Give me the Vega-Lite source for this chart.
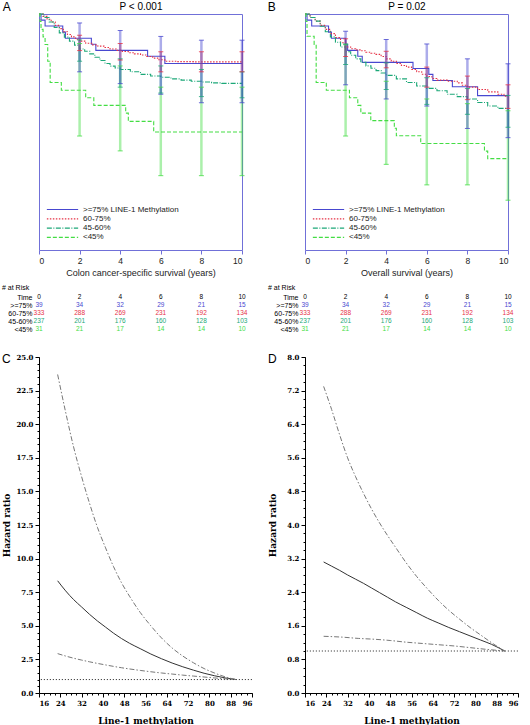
{
  "$schema": "https://vega.github.io/schema/vega-lite/v6.json",
  "padding": {"left": 2, "top": 0, "right": 0, "bottom": 0},
  "config": {
    "font": "Liberation Sans",
    "view": {"stroke": null},
    "axis": {"grid": false, "labelFontWeight": "normal", "titleFontWeight": "normal"},
    "title": {"fontWeight": "normal", "color": "#000"}
  },
  "datasets": {
    "kmA": [
      {"g": ">=75%", "t": 0, "s": 1}, {"g": ">=75%", "t": 0.1, "s": 0.974}, {"g": ">=75%", "t": 0.3, "s": 0.949}, {"g": ">=75%", "t": 1.17, "s": 0.923}, {"g": ">=75%", "t": 1.3, "s": 0.897}, {"g": ">=75%", "t": 2.58, "s": 0.872}, {"g": ">=75%", "t": 2.8, "s": 0.846}, {"g": ">=75%", "t": 5.35, "s": 0.821}, {"g": ">=75%", "t": 6.2, "s": 0.79}, {"g": ">=75%", "t": 10, "s": 0.79},
      {"g": "60-75%", "t": 0, "s": 1}, {"g": "60-75%", "t": 0.2, "s": 0.99}, {"g": "60-75%", "t": 0.4, "s": 0.978}, {"g": "60-75%", "t": 0.6, "s": 0.966}, {"g": "60-75%", "t": 0.8, "s": 0.952}, {"g": "60-75%", "t": 1.0, "s": 0.938}, {"g": "60-75%", "t": 1.2, "s": 0.925}, {"g": "60-75%", "t": 1.4, "s": 0.913}, {"g": "60-75%", "t": 1.6, "s": 0.903}, {"g": "60-75%", "t": 1.8, "s": 0.893}, {"g": "60-75%", "t": 2.0, "s": 0.885}, {"g": "60-75%", "t": 2.3, "s": 0.876}, {"g": "60-75%", "t": 2.6, "s": 0.869}, {"g": "60-75%", "t": 2.9, "s": 0.864}, {"g": "60-75%", "t": 3.2, "s": 0.858}, {"g": "60-75%", "t": 3.5, "s": 0.852}, {"g": "60-75%", "t": 3.8, "s": 0.846}, {"g": "60-75%", "t": 4.1, "s": 0.841}, {"g": "60-75%", "t": 4.4, "s": 0.836}, {"g": "60-75%", "t": 4.7, "s": 0.831}, {"g": "60-75%", "t": 5.0, "s": 0.826}, {"g": "60-75%", "t": 5.3, "s": 0.82}, {"g": "60-75%", "t": 5.6, "s": 0.813}, {"g": "60-75%", "t": 5.9, "s": 0.806}, {"g": "60-75%", "t": 6.2, "s": 0.8}, {"g": "60-75%", "t": 6.8, "s": 0.798}, {"g": "60-75%", "t": 7.6, "s": 0.797}, {"g": "60-75%", "t": 10, "s": 0.797},
      {"g": "45-60%", "t": 0, "s": 1}, {"g": "45-60%", "t": 0.25, "s": 0.985}, {"g": "45-60%", "t": 0.5, "s": 0.966}, {"g": "45-60%", "t": 0.75, "s": 0.943}, {"g": "45-60%", "t": 1.0, "s": 0.92}, {"g": "45-60%", "t": 1.25, "s": 0.902}, {"g": "45-60%", "t": 1.5, "s": 0.885}, {"g": "45-60%", "t": 1.75, "s": 0.868}, {"g": "45-60%", "t": 2.0, "s": 0.852}, {"g": "45-60%", "t": 2.25, "s": 0.842}, {"g": "45-60%", "t": 2.5, "s": 0.831}, {"g": "45-60%", "t": 2.75, "s": 0.817}, {"g": "45-60%", "t": 3.0, "s": 0.803}, {"g": "45-60%", "t": 3.25, "s": 0.79}, {"g": "45-60%", "t": 3.5, "s": 0.779}, {"g": "45-60%", "t": 3.75, "s": 0.771}, {"g": "45-60%", "t": 4.0, "s": 0.765}, {"g": "45-60%", "t": 4.5, "s": 0.755}, {"g": "45-60%", "t": 5.0, "s": 0.744}, {"g": "45-60%", "t": 5.5, "s": 0.737}, {"g": "45-60%", "t": 6.0, "s": 0.732}, {"g": "45-60%", "t": 6.5, "s": 0.725}, {"g": "45-60%", "t": 7.0, "s": 0.72}, {"g": "45-60%", "t": 7.5, "s": 0.715}, {"g": "45-60%", "t": 8.0, "s": 0.712}, {"g": "45-60%", "t": 8.5, "s": 0.708}, {"g": "45-60%", "t": 9.0, "s": 0.706}, {"g": "45-60%", "t": 10, "s": 0.705},
      {"g": "<45%", "t": 0, "s": 1}, {"g": "<45%", "t": 0.05, "s": 0.968}, {"g": "<45%", "t": 0.1, "s": 0.935}, {"g": "<45%", "t": 0.2, "s": 0.903}, {"g": "<45%", "t": 0.3, "s": 0.871}, {"g": "<45%", "t": 0.43, "s": 0.8}, {"g": "<45%", "t": 0.55, "s": 0.71}, {"g": "<45%", "t": 1.1, "s": 0.677}, {"g": "<45%", "t": 2.3, "s": 0.645}, {"g": "<45%", "t": 2.7, "s": 0.613}, {"g": "<45%", "t": 4.27, "s": 0.58}, {"g": "<45%", "t": 4.4, "s": 0.545}, {"g": "<45%", "t": 5.65, "s": 0.5}, {"g": "<45%", "t": 10, "s": 0.5}
    ],
    "kmB": [
      {"g": ">=75%", "t": 0, "s": 1}, {"g": ">=75%", "t": 0.1, "s": 0.974}, {"g": ">=75%", "t": 0.33, "s": 0.949}, {"g": ">=75%", "t": 1.16, "s": 0.923}, {"g": ">=75%", "t": 1.3, "s": 0.897}, {"g": ">=75%", "t": 2.0, "s": 0.872}, {"g": ">=75%", "t": 2.1, "s": 0.846}, {"g": ">=75%", "t": 2.6, "s": 0.821}, {"g": ">=75%", "t": 2.82, "s": 0.795}, {"g": ">=75%", "t": 5.32, "s": 0.769}, {"g": ">=75%", "t": 6.1, "s": 0.744}, {"g": ">=75%", "t": 6.3, "s": 0.718}, {"g": ">=75%", "t": 7.26, "s": 0.692}, {"g": ">=75%", "t": 8.5, "s": 0.654}, {"g": ">=75%", "t": 10, "s": 0.654},
      {"g": "60-75%", "t": 0, "s": 1}, {"g": "60-75%", "t": 0.25, "s": 0.985}, {"g": "60-75%", "t": 0.5, "s": 0.97}, {"g": "60-75%", "t": 0.75, "s": 0.952}, {"g": "60-75%", "t": 1.0, "s": 0.935}, {"g": "60-75%", "t": 1.25, "s": 0.917}, {"g": "60-75%", "t": 1.5, "s": 0.9}, {"g": "60-75%", "t": 1.75, "s": 0.878}, {"g": "60-75%", "t": 2.0, "s": 0.86}, {"g": "60-75%", "t": 2.25, "s": 0.853}, {"g": "60-75%", "t": 2.5, "s": 0.848}, {"g": "60-75%", "t": 2.75, "s": 0.844}, {"g": "60-75%", "t": 3.0, "s": 0.838}, {"g": "60-75%", "t": 3.25, "s": 0.834}, {"g": "60-75%", "t": 3.5, "s": 0.829}, {"g": "60-75%", "t": 3.75, "s": 0.82}, {"g": "60-75%", "t": 4.0, "s": 0.81}, {"g": "60-75%", "t": 4.25, "s": 0.8}, {"g": "60-75%", "t": 4.5, "s": 0.79}, {"g": "60-75%", "t": 4.75, "s": 0.782}, {"g": "60-75%", "t": 5.0, "s": 0.775}, {"g": "60-75%", "t": 5.25, "s": 0.765}, {"g": "60-75%", "t": 5.5, "s": 0.755}, {"g": "60-75%", "t": 5.75, "s": 0.745}, {"g": "60-75%", "t": 6.0, "s": 0.735}, {"g": "60-75%", "t": 6.25, "s": 0.727}, {"g": "60-75%", "t": 6.5, "s": 0.72}, {"g": "60-75%", "t": 7.0, "s": 0.715}, {"g": "60-75%", "t": 7.5, "s": 0.708}, {"g": "60-75%", "t": 7.75, "s": 0.698}, {"g": "60-75%", "t": 8.0, "s": 0.69}, {"g": "60-75%", "t": 8.5, "s": 0.68}, {"g": "60-75%", "t": 9.0, "s": 0.67}, {"g": "60-75%", "t": 9.5, "s": 0.66}, {"g": "60-75%", "t": 9.8, "s": 0.652}, {"g": "60-75%", "t": 10, "s": 0.652},
      {"g": "45-60%", "t": 0, "s": 1}, {"g": "45-60%", "t": 0.25, "s": 0.985}, {"g": "45-60%", "t": 0.5, "s": 0.97}, {"g": "45-60%", "t": 0.75, "s": 0.948}, {"g": "45-60%", "t": 1.0, "s": 0.925}, {"g": "45-60%", "t": 1.25, "s": 0.903}, {"g": "45-60%", "t": 1.5, "s": 0.88}, {"g": "45-60%", "t": 1.75, "s": 0.86}, {"g": "45-60%", "t": 2.0, "s": 0.84}, {"g": "45-60%", "t": 2.25, "s": 0.825}, {"g": "45-60%", "t": 2.5, "s": 0.81}, {"g": "45-60%", "t": 2.75, "s": 0.795}, {"g": "45-60%", "t": 3.0, "s": 0.78}, {"g": "45-60%", "t": 3.25, "s": 0.77}, {"g": "45-60%", "t": 3.5, "s": 0.76}, {"g": "45-60%", "t": 3.75, "s": 0.75}, {"g": "45-60%", "t": 4.0, "s": 0.74}, {"g": "45-60%", "t": 4.5, "s": 0.725}, {"g": "45-60%", "t": 5.0, "s": 0.71}, {"g": "45-60%", "t": 5.5, "s": 0.695}, {"g": "45-60%", "t": 6.0, "s": 0.685}, {"g": "45-60%", "t": 6.5, "s": 0.675}, {"g": "45-60%", "t": 7.0, "s": 0.66}, {"g": "45-60%", "t": 7.5, "s": 0.65}, {"g": "45-60%", "t": 8.0, "s": 0.64}, {"g": "45-60%", "t": 8.5, "s": 0.625}, {"g": "45-60%", "t": 9.0, "s": 0.61}, {"g": "45-60%", "t": 9.5, "s": 0.6}, {"g": "45-60%", "t": 10, "s": 0.59},
      {"g": "<45%", "t": 0, "s": 1}, {"g": "<45%", "t": 0.05, "s": 0.968}, {"g": "<45%", "t": 0.1, "s": 0.906}, {"g": "<45%", "t": 0.45, "s": 0.871}, {"g": "<45%", "t": 0.55, "s": 0.71}, {"g": "<45%", "t": 1.05, "s": 0.677}, {"g": "<45%", "t": 2.19, "s": 0.645}, {"g": "<45%", "t": 2.6, "s": 0.613}, {"g": "<45%", "t": 2.75, "s": 0.58}, {"g": "<45%", "t": 3.24, "s": 0.548}, {"g": "<45%", "t": 4.4, "s": 0.516}, {"g": "<45%", "t": 4.5, "s": 0.484}, {"g": "<45%", "t": 5.7, "s": 0.451}, {"g": "<45%", "t": 8.84, "s": 0.419}, {"g": "<45%", "t": 9.0, "s": 0.387}, {"g": "<45%", "t": 10, "s": 0.387}
    ],
    "ebA": [
      {"t": 2, "g": "<45%", "lo": 0.483, "hi": 0.875}, {"t": 4, "g": "<45%", "lo": 0.42, "hi": 0.78}, {"t": 6, "g": "<45%", "lo": 0.315, "hi": 0.69}, {"t": 8, "g": "<45%", "lo": 0.315, "hi": 0.69}, {"t": 10, "g": "<45%", "lo": 0.315, "hi": 0.69},
      {"t": 2, "g": "45-60%", "lo": 0.8, "hi": 0.89}, {"t": 4, "g": "45-60%", "lo": 0.69, "hi": 0.81}, {"t": 6, "g": "45-60%", "lo": 0.665, "hi": 0.78}, {"t": 8, "g": "45-60%", "lo": 0.65, "hi": 0.765}, {"t": 10, "g": "45-60%", "lo": 0.645, "hi": 0.755},
      {"t": 2, "g": "60-75%", "lo": 0.845, "hi": 0.91}, {"t": 4, "g": "60-75%", "lo": 0.805, "hi": 0.875}, {"t": 6, "g": "60-75%", "lo": 0.755, "hi": 0.84}, {"t": 8, "g": "60-75%", "lo": 0.755, "hi": 0.84}, {"t": 10, "g": "60-75%", "lo": 0.755, "hi": 0.84},
      {"t": 2, "g": ">=75%", "lo": 0.755, "hi": 0.962}, {"t": 4, "g": ">=75%", "lo": 0.705, "hi": 0.93}, {"t": 6, "g": ">=75%", "lo": 0.66, "hi": 0.905}, {"t": 8, "g": ">=75%", "lo": 0.624, "hi": 0.889}, {"t": 10, "g": ">=75%", "lo": 0.624, "hi": 0.889}
    ],
    "ebB": [
      {"t": 2, "g": "<45%", "lo": 0.483, "hi": 0.87}, {"t": 4, "g": "<45%", "lo": 0.363, "hi": 0.715}, {"t": 6, "g": "<45%", "lo": 0.276, "hi": 0.64}, {"t": 8, "g": "<45%", "lo": 0.276, "hi": 0.62}, {"t": 10, "g": "<45%", "lo": 0.211, "hi": 0.59},
      {"t": 2, "g": "45-60%", "lo": 0.786, "hi": 0.873}, {"t": 4, "g": "45-60%", "lo": 0.68, "hi": 0.793}, {"t": 6, "g": "45-60%", "lo": 0.617, "hi": 0.73}, {"t": 8, "g": "45-60%", "lo": 0.575, "hi": 0.684}, {"t": 10, "g": "45-60%", "lo": 0.52, "hi": 0.655},
      {"t": 2, "g": "60-75%", "lo": 0.82, "hi": 0.895}, {"t": 4, "g": "60-75%", "lo": 0.772, "hi": 0.842}, {"t": 6, "g": "60-75%", "lo": 0.69, "hi": 0.775}, {"t": 8, "g": "60-75%", "lo": 0.637, "hi": 0.737}, {"t": 10, "g": "60-75%", "lo": 0.6, "hi": 0.7},
      {"t": 2, "g": ">=75%", "lo": 0.7, "hi": 0.927}, {"t": 4, "g": ">=75%", "lo": 0.64, "hi": 0.892}, {"t": 6, "g": ">=75%", "lo": 0.61, "hi": 0.873}, {"t": 8, "g": ">=75%", "lo": 0.515, "hi": 0.81}, {"t": 10, "g": ">=75%", "lo": 0.476, "hi": 0.789}
    ],
    "risk": [
      {"g": "Time", "t": 0, "n": 0}, {"g": "Time", "t": 2, "n": 2}, {"g": "Time", "t": 4, "n": 4}, {"g": "Time", "t": 6, "n": 6}, {"g": "Time", "t": 8, "n": 8}, {"g": "Time", "t": 10, "n": 10},
      {"g": ">=75%", "t": 0, "n": 39}, {"g": ">=75%", "t": 2, "n": 34}, {"g": ">=75%", "t": 4, "n": 32}, {"g": ">=75%", "t": 6, "n": 29}, {"g": ">=75%", "t": 8, "n": 21}, {"g": ">=75%", "t": 10, "n": 15},
      {"g": "60-75%", "t": 0, "n": 333}, {"g": "60-75%", "t": 2, "n": 288}, {"g": "60-75%", "t": 4, "n": 269}, {"g": "60-75%", "t": 6, "n": 231}, {"g": "60-75%", "t": 8, "n": 192}, {"g": "60-75%", "t": 10, "n": 134},
      {"g": "45-60%", "t": 0, "n": 237}, {"g": "45-60%", "t": 2, "n": 201}, {"g": "45-60%", "t": 4, "n": 176}, {"g": "45-60%", "t": 6, "n": 160}, {"g": "45-60%", "t": 8, "n": 128}, {"g": "45-60%", "t": 10, "n": 103},
      {"g": "<45%", "t": 0, "n": 31}, {"g": "<45%", "t": 2, "n": 21}, {"g": "<45%", "t": 4, "n": 17}, {"g": "<45%", "t": 6, "n": 14}, {"g": "<45%", "t": 8, "n": 14}, {"g": "<45%", "t": 10, "n": 10}
    ],
    "hrC": [
      {"k": "est", "x": 23, "hr": 8.35}, {"k": "est", "x": 26, "hr": 7.6}, {"k": "est", "x": 29, "hr": 6.95}, {"k": "est", "x": 32, "hr": 6.4}, {"k": "est", "x": 35, "hr": 5.85}, {"k": "est", "x": 38, "hr": 5.35}, {"k": "est", "x": 41, "hr": 4.9}, {"k": "est", "x": 44, "hr": 4.45}, {"k": "est", "x": 47, "hr": 4.05}, {"k": "est", "x": 50, "hr": 3.7}, {"k": "est", "x": 54, "hr": 3.3}, {"k": "est", "x": 58, "hr": 2.9}, {"k": "est", "x": 62, "hr": 2.55}, {"k": "est", "x": 66, "hr": 2.23}, {"k": "est", "x": 70, "hr": 1.95}, {"k": "est", "x": 74, "hr": 1.7}, {"k": "est", "x": 78, "hr": 1.47}, {"k": "est", "x": 82, "hr": 1.28}, {"k": "est", "x": 86, "hr": 1.12}, {"k": "est", "x": 90, "hr": 1.0},
      {"k": "upper", "x": 23, "hr": 23.7}, {"k": "upper", "x": 26, "hr": 20.9}, {"k": "upper", "x": 29, "hr": 18.3}, {"k": "upper", "x": 32, "hr": 16.1}, {"k": "upper", "x": 35, "hr": 14.1}, {"k": "upper", "x": 38, "hr": 12.3}, {"k": "upper", "x": 41, "hr": 10.8}, {"k": "upper", "x": 44, "hr": 9.4}, {"k": "upper", "x": 47, "hr": 8.2}, {"k": "upper", "x": 50, "hr": 7.2}, {"k": "upper", "x": 54, "hr": 6.0}, {"k": "upper", "x": 58, "hr": 5.0}, {"k": "upper", "x": 62, "hr": 4.1}, {"k": "upper", "x": 66, "hr": 3.35}, {"k": "upper", "x": 70, "hr": 2.75}, {"k": "upper", "x": 74, "hr": 2.25}, {"k": "upper", "x": 78, "hr": 1.82}, {"k": "upper", "x": 82, "hr": 1.48}, {"k": "upper", "x": 86, "hr": 1.2}, {"k": "upper", "x": 90, "hr": 1.0},
      {"k": "lower", "x": 23, "hr": 2.93}, {"k": "lower", "x": 26, "hr": 2.75}, {"k": "lower", "x": 29, "hr": 2.59}, {"k": "lower", "x": 32, "hr": 2.45}, {"k": "lower", "x": 35, "hr": 2.32}, {"k": "lower", "x": 38, "hr": 2.2}, {"k": "lower", "x": 41, "hr": 2.09}, {"k": "lower", "x": 44, "hr": 1.98}, {"k": "lower", "x": 47, "hr": 1.88}, {"k": "lower", "x": 50, "hr": 1.79}, {"k": "lower", "x": 54, "hr": 1.68}, {"k": "lower", "x": 58, "hr": 1.58}, {"k": "lower", "x": 62, "hr": 1.49}, {"k": "lower", "x": 66, "hr": 1.41}, {"k": "lower", "x": 70, "hr": 1.33}, {"k": "lower", "x": 74, "hr": 1.26}, {"k": "lower", "x": 78, "hr": 1.19}, {"k": "lower", "x": 82, "hr": 1.12}, {"k": "lower", "x": 86, "hr": 1.06}, {"k": "lower", "x": 90, "hr": 1.0}
    ],
    "hrD": [
      {"k": "est", "x": 23, "hr": 3.12}, {"k": "est", "x": 26, "hr": 3.02}, {"k": "est", "x": 29, "hr": 2.92}, {"k": "est", "x": 32, "hr": 2.81}, {"k": "est", "x": 35, "hr": 2.71}, {"k": "est", "x": 38, "hr": 2.61}, {"k": "est", "x": 41, "hr": 2.5}, {"k": "est", "x": 44, "hr": 2.39}, {"k": "est", "x": 47, "hr": 2.28}, {"k": "est", "x": 50, "hr": 2.17}, {"k": "est", "x": 54, "hr": 2.04}, {"k": "est", "x": 58, "hr": 1.91}, {"k": "est", "x": 62, "hr": 1.78}, {"k": "est", "x": 66, "hr": 1.67}, {"k": "est", "x": 70, "hr": 1.56}, {"k": "est", "x": 74, "hr": 1.46}, {"k": "est", "x": 78, "hr": 1.36}, {"k": "est", "x": 82, "hr": 1.26}, {"k": "est", "x": 86, "hr": 1.16}, {"k": "est", "x": 91, "hr": 1.0},
      {"k": "upper", "x": 23, "hr": 7.3}, {"k": "upper", "x": 26, "hr": 6.75}, {"k": "upper", "x": 29, "hr": 6.15}, {"k": "upper", "x": 32, "hr": 5.6}, {"k": "upper", "x": 35, "hr": 5.15}, {"k": "upper", "x": 38, "hr": 4.75}, {"k": "upper", "x": 41, "hr": 4.38}, {"k": "upper", "x": 44, "hr": 4.05}, {"k": "upper", "x": 47, "hr": 3.75}, {"k": "upper", "x": 50, "hr": 3.47}, {"k": "upper", "x": 54, "hr": 3.1}, {"k": "upper", "x": 58, "hr": 2.77}, {"k": "upper", "x": 62, "hr": 2.48}, {"k": "upper", "x": 66, "hr": 2.21}, {"k": "upper", "x": 70, "hr": 1.97}, {"k": "upper", "x": 74, "hr": 1.76}, {"k": "upper", "x": 78, "hr": 1.56}, {"k": "upper", "x": 82, "hr": 1.38}, {"k": "upper", "x": 86, "hr": 1.2}, {"k": "upper", "x": 91, "hr": 1.0},
      {"k": "lower", "x": 23, "hr": 1.35}, {"k": "lower", "x": 30, "hr": 1.33}, {"k": "lower", "x": 36, "hr": 1.3}, {"k": "lower", "x": 42, "hr": 1.28}, {"k": "lower", "x": 48, "hr": 1.25}, {"k": "lower", "x": 54, "hr": 1.21}, {"k": "lower", "x": 60, "hr": 1.18}, {"k": "lower", "x": 66, "hr": 1.15}, {"k": "lower", "x": 72, "hr": 1.12}, {"k": "lower", "x": 78, "hr": 1.08}, {"k": "lower", "x": 84, "hr": 1.04}, {"k": "lower", "x": 91, "hr": 1.0}
    ]
  },
  "hconcat": [
    {
      "vconcat": [
        {
          "vconcat": [
            {
              "width": 203, "height": 236,
              "view": {"stroke": "#7070d8"},
              "title": {"text": "A", "anchor": "start", "frame": "bounds", "offset": 0, "dy": 13, "dx": -34, "fontSize": 12},
              "layer": [
                {
                  "data": {"name": "kmA"},
                  "mark": {"type": "line", "interpolate": "step-after", "strokeWidth": 1.1},
                  "encoding": {
                    "x": {"field": "t", "type": "quantitative", "scale": {"domain": [0, 10], "nice": false}, "axis": {"orient": "bottom", "values": [0, 2, 4, 6, 8, 10], "title": "Colon cancer-specific survival (years)", "domain": false, "tickColor": "#7070d8", "tickSize": 4, "labelFontSize": 8.5, "labelColor": "#222", "titleFontSize": 9, "titleColor": "#222", "labelPadding": 2, "titlePadding": 4}},
                    "y": {"field": "s", "type": "quantitative", "scale": {"domain": [0, 1], "nice": false}, "axis": {"orient": "left", "values": [0, 0.25, 0.5, 0.75, 1], "format": ".2f", "title": "Survival probability", "domain": false, "tickColor": "#7070d8", "tickSize": 4, "labelFontSize": 8.5, "labelColor": "#222", "titleFontSize": 8.5, "titleColor": "#222", "labelPadding": 2, "titlePadding": 5, "minExtent": 24, "maxExtent": 24}},
                    "color": {"field": "g", "type": "nominal", "scale": {"domain": [">=75%", "60-75%", "45-60%", "<45%"], "range": ["#4848d0", "#e63246", "#1ca878", "#44dd44"]}, "legend": {"orient": "none", "legendX": 19, "legendY": 191, "title": null, "padding": 0, "symbolType": "M-4.3,0H4.3", "symbolSize": 53, "symbolStrokeWidth": 1.2, "labelFontSize": 8, "labelColor": "#222", "rowPadding": 0.3, "labelOffset": 16, "labelExpr": "datum.label == '>=75%' ? '>=75% LINE-1 Methylation' : datum.label"}},
                    "strokeDash": {"field": "g", "type": "nominal", "scale": {"domain": [">=75%", "60-75%", "45-60%", "<45%"], "range": [[1, 0], [1.5, 1.5], [5, 1.5, 1, 1.5], [4, 2]]}, "legend": {"orient": "none", "legendX": 19, "legendY": 191, "title": null, "padding": 0, "symbolType": "M-4.3,0H4.3", "symbolSize": 53, "symbolStrokeWidth": 1.2, "labelFontSize": 8, "labelColor": "#222", "rowPadding": 0.3, "labelOffset": 16, "labelExpr": "datum.label == '>=75%' ? '>=75% LINE-1 Methylation' : datum.label"}}
                  }
                },
                {
                  "data": {"name": "ebA"},
                  "mark": {"type": "rule", "strokeWidth": 2.5, "opacity": 0.45},
                  "encoding": {
                    "x": {"field": "t", "type": "quantitative", "scale": {"domain": [0, 10], "nice": false}, "axis": {"orient": "top", "title": "P < 0.001", "labels": false, "ticks": false, "domain": false, "titleFontSize": 10, "titlePadding": 3, "titleColor": "#000"}},
                    "y": {"field": "lo", "type": "quantitative", "axis": null},
                    "y2": {"field": "hi"},
                    "color": {"field": "g", "type": "nominal", "legend": null}
                  }
                },
                {
                  "data": {"name": "ebA"},
                  "transform": [{"fold": ["lo", "hi"], "as": ["end", "v"]}],
                  "mark": {"type": "tick", "orient": "horizontal", "size": 5, "thickness": 1, "opacity": 0.8},
                  "encoding": {
                    "x": {"field": "t", "type": "quantitative", "axis": null},
                    "y": {"field": "v", "type": "quantitative", "axis": null},
                    "color": {"field": "g", "type": "nominal", "legend": null}
                  }
                }
              ],
              "resolve": {"axis": {"x": "independent"}}
            },
            {
              "width": 203, "height": 32,
              "data": {"name": "risk"},
              "title": {"text": "# at Risk", "anchor": "start", "frame": "bounds", "baseline": "bottom", "offset": -5, "fontSize": 7},
              "mark": {"type": "text", "fontSize": 6.5, "baseline": "middle"},
              "encoding": {
                "x": {"field": "t", "type": "quantitative", "scale": {"domain": [0, 10], "nice": false}, "axis": null},
                "y": {"field": "g", "type": "nominal", "scale": {"type": "point", "domain": ["Time", ">=75%", "60-75%", "45-60%", "<45%"], "padding": 0}, "axis": {"title": null, "domain": false, "ticks": false, "labelPadding": 7, "labelFontSize": 7, "minExtent": 37, "maxExtent": 37, "encode": {"labels": {"update": {"fill": {"signal": "datum.value === '>=75%' ? '#4848d0' : datum.value === '60-75%' ? '#e63246' : datum.value === '45-60%' ? '#1ca878' : datum.value === '<45%' ? '#44dd44' : '#000'"}}}}}},
                "text": {"field": "n", "type": "quantitative"},
                "color": {"field": "g", "type": "nominal", "scale": {"domain": ["Time", ">=75%", "60-75%", "45-60%", "<45%"], "range": ["#000000", "#4848d0", "#e63246", "#1ca878", "#44dd44"]}, "legend": null}
              }
            }
          ],
          "spacing": 6,
          "resolve": {"scale": {"color": "independent", "strokeDash": "independent"}}
        },
        {
          "width": 213, "height": 336,
          "title": {"text": "C", "anchor": "start", "frame": "bounds", "offset": 0, "dy": 13, "fontSize": 12},
          "layer": [
            {
              "data": {"name": "hrC"},
              "transform": [{"filter": "datum.k == 'est'"}],
              "mark": {"type": "line", "interpolate": "monotone", "color": "#333333", "strokeWidth": 1},
              "encoding": {
                "x": {"field": "x", "type": "quantitative", "scale": {"domain": [16, 96], "nice": false}, "axis": {"orient": "bottom", "values": [16, 24, 32, 40, 48, 56, 64, 72, 80, 88, 96], "title": "Line-1 methylation", "domainColor": "#000", "tickColor": "#000", "tickSize": 4, "labelFont": "DejaVu Serif", "labelFontWeight": "bold", "labelFontSize": 7, "labelColor": "#000", "titleFont": "DejaVu Serif", "titleFontWeight": "bold", "titleFontSize": 9, "titleColor": "#000", "labelPadding": 2, "titlePadding": 10}},
                "y": {"field": "hr", "type": "quantitative", "scale": {"domain": [0, 25], "nice": false}, "axis": {"orient": "left", "values": [0, 2.5, 5, 7.5, 10, 12.5, 15, 17.5, 20, 22.5, 25], "format": ".1f", "title": "Hazard ratio", "domainColor": "#000", "tickColor": "#000", "tickSize": 4, "labelFont": "DejaVu Serif", "labelFontWeight": "bold", "labelFontSize": 7, "labelColor": "#000", "titleFont": "DejaVu Serif", "titleFontWeight": "bold", "titleFontSize": 9, "titleColor": "#000", "labelPadding": 2, "titlePadding": 4, "minExtent": 24, "maxExtent": 24}}
              }
            },
            {
              "data": {"name": "hrC"},
              "transform": [{"filter": "datum.k != 'est'"}],
              "mark": {"type": "line", "interpolate": "monotone", "color": "#777777", "strokeWidth": 1, "strokeDash": [5, 2, 1.5, 2]},
              "encoding": {
                "x": {"field": "x", "type": "quantitative", "axis": {"orient": "bottom", "values": [16, 18, 20, 22, 24, 26, 28, 30, 32, 34, 36, 38, 40, 42, 44, 46, 48, 50, 52, 54, 56, 58, 60, 62, 64, 66, 68, 70, 72, 74, 76, 78, 80, 82, 84, 86, 88, 90, 92, 94, 96], "labels": false, "domain": false, "tickSize": 2, "tickColor": "#000", "title": null}},
                "y": {"field": "hr", "type": "quantitative", "axis": {"orient": "left", "values": [0, 0.5, 1, 1.5, 2, 2.5, 3, 3.5, 4, 4.5, 5, 5.5, 6, 6.5, 7, 7.5, 8, 8.5, 9, 9.5, 10, 10.5, 11, 11.5, 12, 12.5, 13, 13.5, 14, 14.5, 15, 15.5, 16, 16.5, 17, 17.5, 18, 18.5, 19, 19.5, 20, 20.5, 21, 21.5, 22, 22.5, 23, 23.5, 24, 24.5, 25], "labels": false, "domain": false, "tickSize": 2, "tickColor": "#000", "title": null}},
                "detail": {"field": "k", "type": "nominal"}
              }
            },
            {
              "data": {"values": [{}]},
              "mark": {"type": "rule", "color": "#444444", "strokeWidth": 1, "strokeDash": [1.2, 1.8]},
              "encoding": {"y": {"datum": 1, "type": "quantitative", "axis": null}}
            }
          ],
          "resolve": {"axis": {"x": "independent", "y": "independent"}}
        }
      ],
      "spacing": 20,
      "resolve": {"scale": {"color": "independent", "strokeDash": "independent"}}
    },
    {
      "vconcat": [
        {
          "vconcat": [
            {
              "width": 203, "height": 236,
              "view": {"stroke": "#7070d8"},
              "title": {"text": "B", "anchor": "start", "frame": "bounds", "offset": 0, "dy": 13, "dx": -35, "fontSize": 12},
              "layer": [
                {
                  "data": {"name": "kmB"},
                  "mark": {"type": "line", "interpolate": "step-after", "strokeWidth": 1.1},
                  "encoding": {
                    "x": {"field": "t", "type": "quantitative", "scale": {"domain": [0, 10], "nice": false}, "axis": {"orient": "bottom", "values": [0, 2, 4, 6, 8, 10], "title": "Overall survival (years)", "domain": false, "tickColor": "#7070d8", "tickSize": 4, "labelFontSize": 8.5, "labelColor": "#222", "titleFontSize": 9, "titleColor": "#222", "labelPadding": 2, "titlePadding": 4}},
                    "y": {"field": "s", "type": "quantitative", "scale": {"domain": [0, 1], "nice": false}, "axis": {"orient": "left", "values": [0, 0.25, 0.5, 0.75, 1], "format": ".2f", "title": "Survival probability", "domain": false, "tickColor": "#7070d8", "tickSize": 4, "labelFontSize": 8.5, "labelColor": "#222", "titleFontSize": 8.5, "titleColor": "#222", "labelPadding": 3, "titlePadding": 5, "minExtent": 24, "maxExtent": 24}},
                    "color": {"field": "g", "type": "nominal", "scale": {"domain": [">=75%", "60-75%", "45-60%", "<45%"], "range": ["#4848d0", "#e63246", "#1ca878", "#44dd44"]}, "legend": {"orient": "none", "legendX": 19, "legendY": 191, "title": null, "padding": 0, "symbolType": "M-4.3,0H4.3", "symbolSize": 53, "symbolStrokeWidth": 1.2, "labelFontSize": 8, "labelColor": "#222", "rowPadding": 0.3, "labelOffset": 16, "labelExpr": "datum.label == '>=75%' ? '>=75% LINE-1 Methylation' : datum.label"}},
                    "strokeDash": {"field": "g", "type": "nominal", "scale": {"domain": [">=75%", "60-75%", "45-60%", "<45%"], "range": [[1, 0], [1.5, 1.5], [5, 1.5, 1, 1.5], [4, 2]]}, "legend": {"orient": "none", "legendX": 19, "legendY": 191, "title": null, "padding": 0, "symbolType": "M-4.3,0H4.3", "symbolSize": 53, "symbolStrokeWidth": 1.2, "labelFontSize": 8, "labelColor": "#222", "rowPadding": 0.3, "labelOffset": 16, "labelExpr": "datum.label == '>=75%' ? '>=75% LINE-1 Methylation' : datum.label"}}
                  }
                },
                {
                  "data": {"name": "ebB"},
                  "mark": {"type": "rule", "strokeWidth": 2.5, "opacity": 0.45},
                  "encoding": {
                    "x": {"field": "t", "type": "quantitative", "scale": {"domain": [0, 10], "nice": false}, "axis": {"orient": "top", "title": "P = 0.02", "labels": false, "ticks": false, "domain": false, "titleFontSize": 10, "titlePadding": 3, "titleColor": "#000"}},
                    "y": {"field": "lo", "type": "quantitative", "axis": null},
                    "y2": {"field": "hi"},
                    "color": {"field": "g", "type": "nominal", "legend": null}
                  }
                },
                {
                  "data": {"name": "ebB"},
                  "transform": [{"fold": ["lo", "hi"], "as": ["end", "v"]}],
                  "mark": {"type": "tick", "orient": "horizontal", "size": 5, "thickness": 1, "opacity": 0.8},
                  "encoding": {
                    "x": {"field": "t", "type": "quantitative", "axis": null},
                    "y": {"field": "v", "type": "quantitative", "axis": null},
                    "color": {"field": "g", "type": "nominal", "legend": null}
                  }
                }
              ],
              "resolve": {"axis": {"x": "independent"}}
            },
            {
              "width": 203, "height": 32,
              "data": {"name": "risk"},
              "title": {"text": "# at Risk", "anchor": "start", "frame": "bounds", "baseline": "bottom", "offset": -5, "fontSize": 7},
              "mark": {"type": "text", "fontSize": 6.5, "baseline": "middle"},
              "encoding": {
                "x": {"field": "t", "type": "quantitative", "scale": {"domain": [0, 10], "nice": false}, "axis": null},
                "y": {"field": "g", "type": "nominal", "scale": {"type": "point", "domain": ["Time", ">=75%", "60-75%", "45-60%", "<45%"], "padding": 0}, "axis": {"title": null, "domain": false, "ticks": false, "labelPadding": 7, "labelFontSize": 7, "minExtent": 37, "maxExtent": 37, "encode": {"labels": {"update": {"fill": {"signal": "datum.value === '>=75%' ? '#4848d0' : datum.value === '60-75%' ? '#e63246' : datum.value === '45-60%' ? '#1ca878' : datum.value === '<45%' ? '#44dd44' : '#000'"}}}}}},
                "text": {"field": "n", "type": "quantitative"},
                "color": {"field": "g", "type": "nominal", "scale": {"domain": ["Time", ">=75%", "60-75%", "45-60%", "<45%"], "range": ["#000000", "#4848d0", "#e63246", "#1ca878", "#44dd44"]}, "legend": null}
              }
            }
          ],
          "spacing": 6,
          "resolve": {"scale": {"color": "independent", "strokeDash": "independent"}}
        },
        {
          "width": 213, "height": 336,
          "title": {"text": "D", "anchor": "start", "frame": "bounds", "offset": 0, "dy": 13, "fontSize": 12},
          "layer": [
            {
              "data": {"name": "hrD"},
              "transform": [{"filter": "datum.k == 'est'"}],
              "mark": {"type": "line", "interpolate": "monotone", "color": "#333333", "strokeWidth": 1},
              "encoding": {
                "x": {"field": "x", "type": "quantitative", "scale": {"domain": [16, 96], "nice": false}, "axis": {"orient": "bottom", "values": [16, 24, 32, 40, 48, 56, 64, 72, 80, 88, 96], "title": "Line-1 methylation", "domainColor": "#000", "tickColor": "#000", "tickSize": 4, "labelFont": "DejaVu Serif", "labelFontWeight": "bold", "labelFontSize": 7, "labelColor": "#000", "titleFont": "DejaVu Serif", "titleFontWeight": "bold", "titleFontSize": 9, "titleColor": "#000", "labelPadding": 2, "titlePadding": 10}},
                "y": {"field": "hr", "type": "quantitative", "scale": {"domain": [0, 8], "nice": false}, "axis": {"orient": "left", "values": [0, 0.8, 1.6, 2.4, 3.2, 4, 4.8, 5.6, 6.4, 7.2, 8], "format": ".1f", "title": "Hazard ratio", "domainColor": "#000", "tickColor": "#000", "tickSize": 4, "labelFont": "DejaVu Serif", "labelFontWeight": "bold", "labelFontSize": 7, "labelColor": "#000", "titleFont": "DejaVu Serif", "titleFontWeight": "bold", "titleFontSize": 9, "titleColor": "#000", "labelPadding": 2, "titlePadding": 4, "minExtent": 24, "maxExtent": 24}}
              }
            },
            {
              "data": {"name": "hrD"},
              "transform": [{"filter": "datum.k != 'est'"}],
              "mark": {"type": "line", "interpolate": "monotone", "color": "#777777", "strokeWidth": 1, "strokeDash": [5, 2, 1.5, 2]},
              "encoding": {
                "x": {"field": "x", "type": "quantitative", "axis": {"orient": "bottom", "values": [16, 18, 20, 22, 24, 26, 28, 30, 32, 34, 36, 38, 40, 42, 44, 46, 48, 50, 52, 54, 56, 58, 60, 62, 64, 66, 68, 70, 72, 74, 76, 78, 80, 82, 84, 86, 88, 90, 92, 94, 96], "labels": false, "domain": false, "tickSize": 2, "tickColor": "#000", "title": null}},
                "y": {"field": "hr", "type": "quantitative", "axis": {"orient": "left", "values": [0, 0.2, 0.4, 0.6, 0.8, 1, 1.2, 1.4, 1.6, 1.8, 2, 2.2, 2.4, 2.6, 2.8, 3, 3.2, 3.4, 3.6, 3.8, 4, 4.2, 4.4, 4.6, 4.8, 5, 5.2, 5.4, 5.6, 5.8, 6, 6.2, 6.4, 6.6, 6.8, 7, 7.2, 7.4, 7.6, 7.8, 8], "labels": false, "domain": false, "tickSize": 2, "tickColor": "#000", "title": null}},
                "detail": {"field": "k", "type": "nominal"}
              }
            },
            {
              "data": {"values": [{}]},
              "mark": {"type": "rule", "color": "#444444", "strokeWidth": 1, "strokeDash": [1.2, 1.8]},
              "encoding": {"y": {"datum": 1, "type": "quantitative", "axis": null}}
            }
          ],
          "resolve": {"axis": {"x": "independent", "y": "independent"}}
        }
      ],
      "spacing": 20,
      "resolve": {"scale": {"color": "independent", "strokeDash": "independent"}}
    }
  ],
  "spacing": 14,
  "resolve": {"scale": {"color": "independent", "strokeDash": "independent"}}
}
